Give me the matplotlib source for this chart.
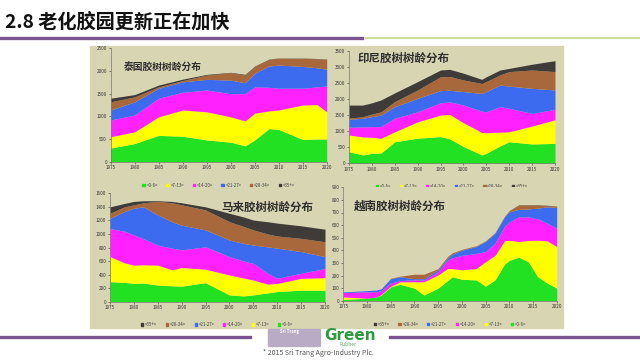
import matplotlib.pyplot as plt
from matplotlib.lines import Line2D
from matplotlib.patches import Patch, Rectangle
import numpy as np

plt.rcParams['font.family'] = ['Noto Sans CJK SC', 'DejaVu Sans']

# --- data: cumulative tops of each age band (bottom -> top) ---
age_labels = ['<0-6>', '<7-13>', '<14-20>', '<21-27>', '<28-34>', '<35+>']
layer_colors = ['#22e022', '#ffff00', '#ff22ff', '#3d6bf0', '#a8683c', '#3e3b38']

th_years = [1975, 1980, 1985, 1990, 1995, 2000, 2003, 2005, 2008, 2010, 2015, 2018, 2020]
th_tops = [
    [300, 400, 580, 560, 480, 430, 350, 480, 730, 710, 490, 500, 500],
    [550, 660, 990, 1140, 1100, 990, 900, 1070, 1120, 1140, 1250, 1260, 1100],
    [920, 1030, 1400, 1530, 1580, 1500, 1500, 1650, 1640, 1620, 1620, 1650, 1670],
    [1140, 1320, 1620, 1760, 1815, 1800, 1740, 1950, 2110, 2130, 2100, 2070, 2040],
    [1320, 1430, 1650, 1790, 1910, 1960, 1910, 2100, 2260, 2280, 2280, 2270, 2260],
    [1400, 1480, 1690, 1820, 1925, 1970, 1925, 2110, 2265, 2285, 2285, 2275, 2265],
]

id_years = [1975, 1978, 1980, 1982, 1985, 1990, 1995, 1997, 2000, 2004, 2005, 2008, 2010, 2015, 2020]
id_tops = [
    [360, 260, 310, 320, 670, 780, 830, 760, 520, 260, 310, 540, 670, 600, 620],
    [880, 820, 810, 780, 980, 1290, 1500, 1520, 1260, 960, 950, 970, 980, 1160, 1350],
    [1120, 1130, 1140, 1140, 1400, 1600, 1880, 1910, 1810, 1620, 1600, 1760, 1710, 1550, 1680],
    [1370, 1400, 1450, 1500, 1760, 2020, 2260, 2270, 2230, 2170, 2230, 2430, 2400, 2330, 2280],
    [1400, 1450, 1530, 1600, 1920, 2280, 2690, 2700, 2590, 2480, 2540, 2750, 2850, 2900, 2850],
    [1810, 1810, 1880, 1970, 2190, 2540, 2900, 2920, 2800, 2610, 2690, 2900, 2950, 3080, 3190],
]

my_years = [1975, 1978, 1980, 1982, 1985, 1988, 1990, 1995, 2000, 2003, 2005, 2008, 2010, 2015, 2020]
my_tops = [
    [295, 285, 270, 275, 245, 235, 230, 280, 100, 85, 100, 130, 150, 170, 170],
    [665, 575, 540, 545, 540, 470, 505, 480, 395, 350, 320, 260, 270, 345, 355],
    [1080, 1040, 985, 930, 835, 790, 765, 810, 665, 600, 565, 420, 345, 420, 490],
    [1230, 1330, 1380, 1400, 1280, 1180, 1130, 1060, 910, 860, 835, 810, 790, 740, 665],
    [1305, 1400, 1430, 1460, 1480, 1460, 1430, 1355, 1180, 1110, 1060, 1000, 970, 935, 885],
    [1400, 1450, 1480, 1490, 1490, 1480, 1460, 1400, 1305, 1250, 1205, 1180, 1160, 1120, 1070],
]

vn_years = [1975, 1980, 1982, 1983, 1985, 1987, 1990, 1992, 1995, 1997, 1998, 2000, 2003,
            2005, 2007, 2009, 2010, 2012, 2014, 2016, 2018, 2020]
vn_tops = [
    [10, 20, 30, 45, 110, 130, 100, 45, 100, 160, 190, 170, 165, 115, 165, 290, 320, 345, 310, 190, 140, 100],
    [30, 20, 30, 50, 115, 150, 150, 150, 205, 255, 255, 245, 255, 310, 360, 475, 480, 470, 478, 480, 475, 430],
    [65, 70, 70, 80, 140, 160, 165, 165, 230, 320, 340, 360, 375, 390, 455, 590, 625, 665, 665, 650, 615, 575],
    [70, 80, 85, 95, 175, 190, 175, 175, 245, 335, 370, 400, 430, 470, 535, 665, 705, 725, 728, 735, 745, 740],
    [70, 80, 85, 95, 178, 195, 210, 210, 255, 345, 378, 405, 433, 473, 537, 668, 712, 760, 760, 760, 755, 750],
    [70, 80, 85, 95, 178, 195, 210, 210, 255, 350, 380, 407, 435, 475, 540, 670, 715, 762, 762, 762, 757, 752],
]

panel_bg = '#d8d5b3'


def fx(px):
    return px / 640


def fy(py):
    return 1 - py / 360


def draw_panel(fig, box, years, tops, ymax, ystep, title, title_pos, title_size, reverse_legend):
    x0, x1, y0, y1 = box
    ax = fig.add_axes([fx(x0), fy(y0), fx(x1) - fx(x0), fy(y1) - fy(y0)])
    ax.set_facecolor(panel_bg)
    prev = np.zeros(len(years))
    for top, color in zip(tops, layer_colors):
        top = np.array(top, dtype=float)
        ax.fill_between(years, prev, top, color=color, lw=0)
        prev = top
    ax.set_xlim(1975, 2020)
    ax.set_ylim(0, ymax)
    ax.set_xticks(range(1975, 2021, 5))
    ax.set_yticks(range(0, ymax + 1, ystep))
    ax.tick_params(labelsize=3.3, length=1.2, width=0.4, pad=1.5, colors='#333333')
    for side in ['top', 'right']:
        ax.spines[side].set_visible(False)
    for side in ['left', 'bottom']:
        ax.spines[side].set_color('#777777')
        ax.spines[side].set_linewidth(0.5)
    ax.text(title_pos[0], title_pos[1], title, transform=ax.transAxes,
            fontsize=title_size, fontweight='bold', color='#2e2e2e', va='center')

    handles = [Patch(color=c) for c in layer_colors]
    labels = list(age_labels)
    if reverse_legend:
        handles, labels = handles[::-1], labels[::-1]
    ax.legend(handles, labels, loc='upper center', bbox_to_anchor=(0.5, -0.15), ncol=6,
              frameon=False, fontsize=3.2, handlelength=0.5, handleheight=0.5,
              handletextpad=0.4, columnspacing=1.9, labelcolor='#444444')
    return ax


def main():
    fig = plt.figure(figsize=(6.4, 3.6), dpi=100)

    # --- slide decoration ---
    fig.text(fx(5), fy(22), '2.8 老化胶园更新正在加快', fontsize=13.8, fontweight='bold',
             va='center', ha='left', color='#111111')
    fig.add_artist(Line2D([fx(0), fx(362)], [fy(38), fy(38)], color='#7a5390', lw=2.4))
    fig.add_artist(Line2D([fx(366), fx(640)], [fy(38), fy(38)], color='#cddc9c', lw=1.6))
    fig.add_artist(Line2D([fx(0), fx(250)], [fy(337), fy(337)], color='#7a5390', lw=2.4))
    fig.add_artist(Line2D([fx(390), fx(640)], [fy(337), fy(337)], color='#7a5390', lw=2.4))

    fig.add_artist(Rectangle((fx(90), fy(328)), fx(563) - fx(90), fy(46) - fy(328),
                             transform=fig.transFigure, color=panel_bg, zorder=-1))

    draw_panel(fig, (110.7, 326.7, 161.7, 48.3), th_years, th_tops, 2500, 500,
               '泰国胶树树龄分布', (0.06, 0.84), 7, False)
    draw_panel(fig, (349, 555, 163.3, 50.7), id_years, id_tops, 3500, 500,
               '印尼胶树树龄分布', (0.04, 0.93), 8.3, False)
    draw_panel(fig, (110, 325, 301.7, 193.3), my_years, my_tops, 1600, 200,
               '马来胶树树龄分布', (0.52, 0.87), 8.3, True)
    draw_panel(fig, (343.3, 556.7, 300.7, 187.3), vn_years, vn_tops, 900, 100,
               '越南胶树树龄分布', (0.05, 0.83), 8.3, True)

    # --- logo and footer ---
    fig.add_artist(Rectangle((fx(268), fy(346)), fx(320) - fx(268), fy(329) - fy(346),
                             transform=fig.transFigure, color='#b9aac6', zorder=2))
    fig.text(fx(280), fy(333), 'Sri Trang', fontsize=3, color='white', fontweight='bold', zorder=3)
    fig.text(fx(324), fy(335), 'Green', fontsize=11, fontweight='bold', color='#2f9a3f',
             va='center', ha='left', family='DejaVu Sans')
    fig.text(fx(348), fy(345), 'Rubber', fontsize=3.5, color='#6a9a6a', ha='center', va='center')
    fig.text(fx(263), fy(353), '* 2015 Sri Trang Agro-Industry Plc.', fontsize=5, color='#555555',
             va='center', ha='left')

    fig.savefig('out.png', dpi=100)


if __name__ == '__main__':
    main()
